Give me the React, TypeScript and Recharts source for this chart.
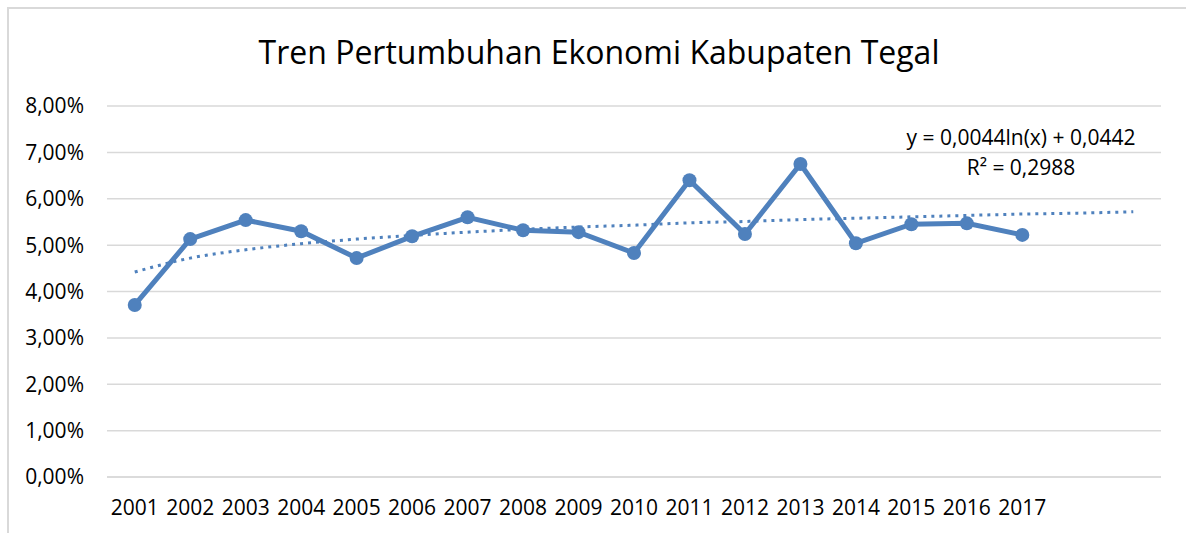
import React from 'react';
import { LineChart, Line, XAxis, YAxis, CartesianGrid } from 'recharts';

// observed years and the two forecast periods the trendline is extended to
const years = ['2001', '2002', '2003', '2004', '2005', '2006', '2007', '2008', '2009', '2010', '2011', '2012', '2013', '2014', '2015', '2016', '2017'];
const forecastPeriods = ['2018', '2019'];

// economic growth (fraction)
const growth = [0.0371, 0.0513, 0.0554, 0.0530, 0.0472, 0.0519, 0.0560, 0.0532, 0.0528, 0.0483, 0.0640, 0.0524, 0.0675, 0.0504, 0.0545, 0.0547, 0.0522];

// logarithmic trendline values at each period (y = 0,0044ln(x) + 0,0442)
const trend = [0.0442, 0.0472, 0.0490, 0.0503, 0.0513, 0.0521, 0.0528, 0.0534, 0.0539, 0.0543, 0.0548, 0.0551, 0.0555, 0.0558, 0.0561, 0.0564, 0.0567, 0.0569, 0.0572];

const yTicks = [0, 0.01, 0.02, 0.03, 0.04, 0.05, 0.06, 0.07, 0.08];

const title = 'Tren Pertumbuhan Ekonomi Kabupaten Tegal';
const equation = 'y = 0,0044ln(x) + 0,0442';
const rSquared = 'R² = 0,2988';

const data = [...years, ...forecastPeriods].map((period, i) => ({
  period,
  growth: i < growth.length ? growth[i] : null,
  trend: trend[i],
}));

const FONT = '"Open Sans", "Noto Sans", sans-serif';
const BLUE = '#4f81bd';
const GRID = '#d9d9d9';

const fmtPct = (v: number) => (v * 100).toFixed(2).replace('.', ',') + '%';

// half a category width, so points sit in the middle of each slot
const HALF_BAND = 1054 / 19 / 2;

export default function App() {
  return (
    <div style={{ position: 'absolute', left: 0, top: 0, width: 1186, height: 533, overflow: 'hidden', background: '#fff', fontFamily: FONT }}>
      <div style={{ position: 'absolute', left: 7, top: 7, width: 1200, height: 560, border: `2px solid ${GRID}`, boxSizing: 'border-box' }} />
      <div style={{ position: 'absolute', left: 0, width: 1198, top: 29, textAlign: 'center', fontSize: 32, color: '#000', lineHeight: '46px' }}>
        {title}
      </div>
      <div style={{ position: 'absolute', left: 821, width: 400, top: 122, textAlign: 'center', fontSize: 21, color: '#000', lineHeight: '30px' }}>
        <div>{equation}</div>
        <div>{rSquared}</div>
      </div>
      <div style={{ position: 'absolute', left: 0, top: 0 }}>
        <LineChart width={1186} height={533} data={data} margin={{ top: 106, right: 25, bottom: 16, left: 0 }}>
          <CartesianGrid vertical={false} stroke={GRID} strokeWidth={1.5} />
          <XAxis
            dataKey="period"
            height={40}
            padding={{ left: HALF_BAND, right: HALF_BAND }}
            axisLine={{ stroke: GRID, strokeWidth: 1.5 }}
            tickLine={false}
            tickMargin={17}
            interval={0}
            tick={{ fill: '#000', fontSize: 21, fontFamily: FONT }}
            tickFormatter={(v: string) => (years.includes(v) ? v : '')}
          />
          <YAxis
            width={107}
            domain={[0, 0.08]}
            ticks={yTicks}
            axisLine={false}
            tickLine={false}
            tickMargin={17}
            tick={{ fill: '#000', fontSize: 21, fontFamily: FONT }}
            tickFormatter={fmtPct}
          />
          <Line
            type="monotone"
            dataKey="trend"
            stroke={BLUE}
            strokeWidth={3}
            strokeDasharray="3 5"
            dot={false}
            activeDot={false}
            isAnimationActive={false}
          />
          <Line
            type="linear"
            dataKey="growth"
            stroke={BLUE}
            strokeWidth={5}
            dot={{ r: 7, fill: BLUE, stroke: BLUE, strokeWidth: 0 }}
            activeDot={false}
            connectNulls={false}
            isAnimationActive={false}
          />
        </LineChart>
      </div>
    </div>
  );
}
